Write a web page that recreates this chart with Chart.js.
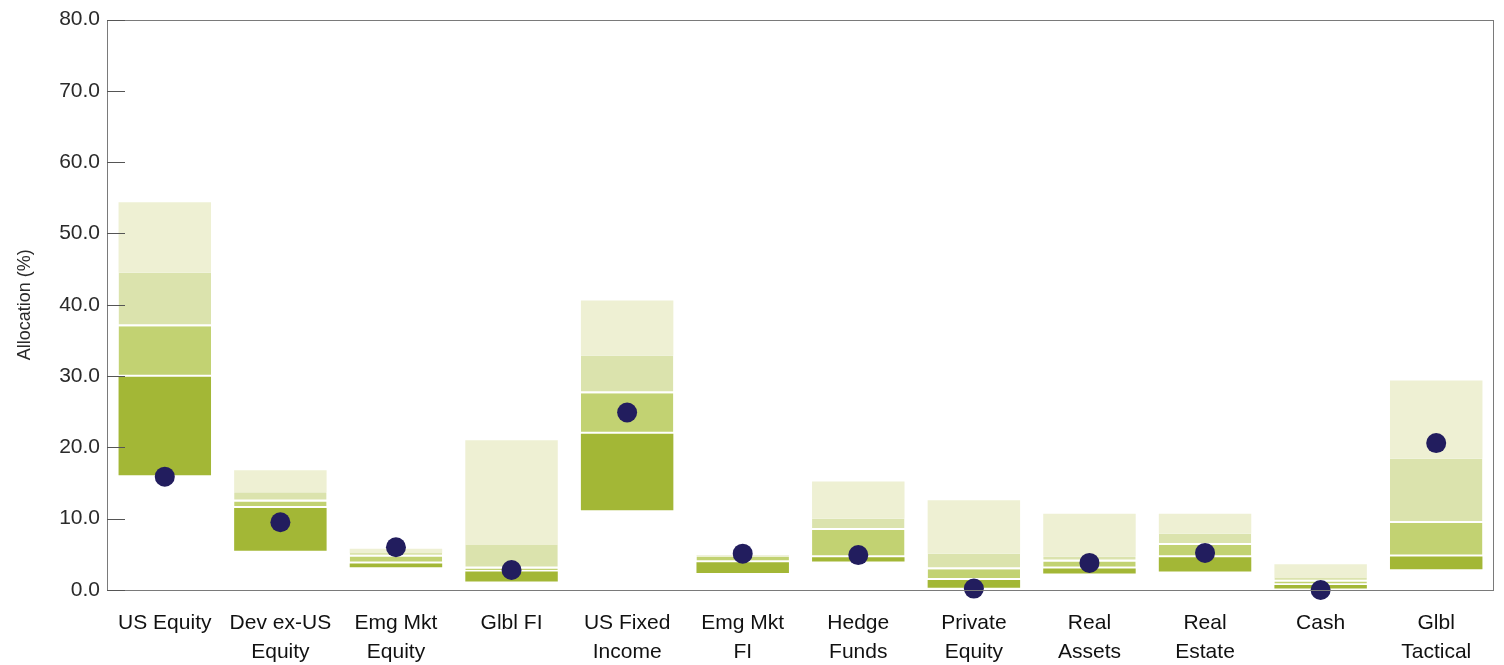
<!DOCTYPE html>
<html>
<head>
<meta charset="utf-8">
<title>Allocation ranges</title>
<script src="https://cdn.jsdelivr.net/npm/chart.js@4.4.0/dist/chart.umd.min.js"></script>
<style>
  html, body { margin: 0; padding: 0; background: #fff; overflow: hidden; }
  canvas { display: block; }
</style>
</head>
<body>
<canvas id="myChart" width="1504" height="665"></canvas>
<script>
// Categories
var categories = [
    ['US Equity'], ['Dev ex-US', 'Equity'], ['Emg Mkt', 'Equity'], ['Glbl FI'],
    ['US Fixed', 'Income'], ['Emg Mkt', 'FI'], ['Hedge', 'Funds'], ['Private', 'Equity'],
    ['Real', 'Assets'], ['Real', 'Estate'], ['Cash'], ['Glbl', 'Tactical']
];

// Range boundaries (%), bottom to top
var low    = [16.1,  5.5, 3.2,  1.2, 11.2, 2.4, 4.0,  0.3,  2.3,  2.6, 0.2,  2.9];
var q1     = [29.9, 11.5, 3.7,  2.6, 21.9, 3.9, 4.6,  1.4,  3.0,  4.6, 0.7,  4.7];
var median = [37.0, 12.4, 4.7,  3.0, 27.6, 4.7, 8.4,  2.9,  4.0,  6.3, 1.2,  9.4];
var q3     = [44.5, 13.7, 5.2,  6.3, 32.9, 4.8, 10.0, 5.1,  4.7,  7.9, 1.7, 18.4];
var high   = [54.4, 16.8, 5.8, 21.0, 40.6, 4.9, 15.2, 12.6, 10.7, 10.7, 3.6, 29.4];

// Current allocation (dots)
var current = [15.9, 9.5, 6.0, 2.8, 24.9, 5.1, 4.9, 0.2, 3.8, 5.2, 0.0, 20.6];

var yMin = 0, yMax = 80, yStep = 10;

function band(from, to) {
    return from.map(function (v, i) { return [v, to[i]]; });
}

function bandSet(label, from, to, color, line) {
    return {
        type: 'bar',
        label: label,
        data: band(from, to),
        backgroundColor: color,
        borderColor: '#ffffff',
        borderWidth: { top: 0, left: 0, right: 0, bottom: line },
        borderSkipped: false,
        barPercentage: 0.8,
        categoryPercentage: 1.0,
        order: 2
    };
}

// Axis box + inward tick marks
var boxPlugin = {
    id: 'box',
    afterDraw: function (chart) {
        var ctx = chart.ctx, a = chart.chartArea, y = chart.scales.y;
        ctx.save();
        ctx.strokeStyle = '#7a7a7a';
        ctx.lineWidth = 1;
        ctx.strokeRect(Math.round(a.left) + 0.5, Math.round(a.top) + 0.5,
            Math.round(a.right - a.left) - 1, Math.round(a.bottom - a.top));
        ctx.strokeStyle = '#555';
        y.ticks.forEach(function (t) {
            var py = Math.round(y.getPixelForValue(t.value)) + 0.5;
            ctx.beginPath();
            ctx.moveTo(a.left, py);
            ctx.lineTo(a.left + 18, py);
            ctx.stroke();
        });
        ctx.restore();
    }
};

Chart.defaults.font.family = "'Liberation Sans', Arial, sans-serif";
Chart.defaults.color = '#222';

new Chart("myChart", {
    data: {
        labels: categories,
        datasets: [
            {
                type: 'line',
                label: 'Current',
                data: current,
                showLine: false,
                pointRadius: 10,
                pointHoverRadius: 10,
                pointBackgroundColor: '#221d5e',
                pointBorderColor: '#221d5e',
                pointBorderWidth: 0,
                clip: false,
                order: 0
            },
            bandSet('Low - Q1', low, q1, '#a3b736', 0),
            bandSet('Q1 - Median', q1, median, '#c2d272', 2),
            bandSet('Median - Q3', median, q3, '#dbe3ad', 2),
            bandSet('Q3 - High', q3, high, '#eef0d3', 0)
        ]
    },
    options: {
        responsive: false,
        animation: false,
        layout: { padding: { left: 0, right: 7, top: 18, bottom: 0 } },
        plugins: {
            legend: { display: false },
            tooltip: { enabled: false }
        },
        scales: {
            x: {
                stacked: true,
                grid: { display: false, drawTicks: false },
                border: { display: false },
                ticks: {
                    autoSkip: false,
                    maxRotation: 0,
                    padding: 19,
                    color: '#111',
                    font: { size: 21, lineHeight: 1.36 }
                },
                afterFit: function (scale) {
                    scale.height = 75;
                    scale.paddingLeft = 0;
                    scale.paddingRight = 0;
                }
            },
            y: {
                stacked: false,
                min: yMin,
                max: yMax,
                grid: { display: false, drawTicks: false },
                border: { display: false },
                ticks: {
                    stepSize: yStep,
                    padding: 7,
                    color: '#2a2a2a',
                    font: { size: 21 },
                    callback: function (v) { return Number(v).toFixed(1); }
                },
                title: {
                    display: true,
                    text: 'Allocation (%)',
                    color: '#2a2a2a',
                    font: { size: 18 },
                    padding: { top: 14, bottom: 4 }
                },
                afterFit: function (scale) { scale.width = 107; }
            }
        }
    },
    plugins: [boxPlugin]
});
</script>
</body>
</html>
